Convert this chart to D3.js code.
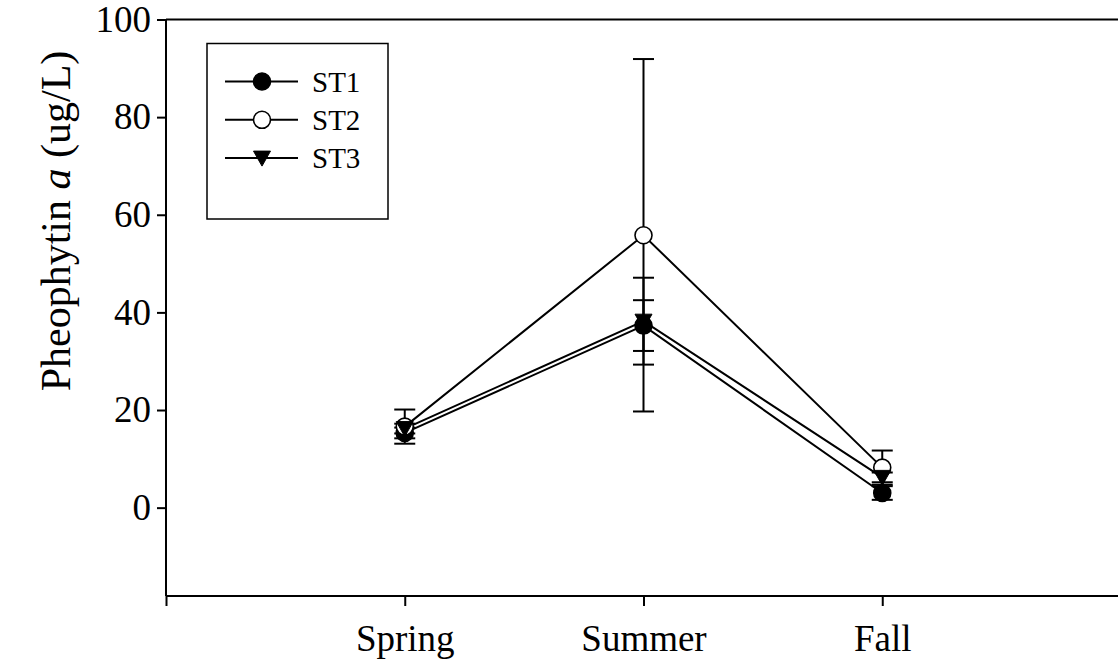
<!DOCTYPE html>
<html>
<head>
<meta charset="utf-8">
<script src="https://cdn.jsdelivr.net/npm/d3@7"></script>
<style>
  html, body { margin: 0; padding: 0; background: #fff; }
  svg { display: block; }
  svg text { font-family: "Times New Roman", "Liberation Serif", Times, serif; fill: #000; }
</style>
</head>
<body>
<svg id="chart" width="1118" height="664"></svg>
<script>
// Seasonal pheophytin a concentrations (mean ± error) at three stations
const seasons = ["Spring", "Summer", "Fall"];
const st1 = [15.3, 37.3, 3.0];
const st1Err = [1.1, 5.2, 1.4];
const st2 = [16.6, 55.8, 8.2];
const st2Err = [3.5, 36.1, 3.5];
const st3 = [16.2, 38.2, 6.2];
const st3Err = [1.0, 8.9, 1.0];
const yTicks = [0, 20, 40, 60, 80, 100];
const stationNames = ["ST1", "ST2", "ST3"];

const series = [
  { name: stationNames[0], values: st1, errors: st1Err, symbol: "filled" },
  { name: stationNames[1], values: st2, errors: st2Err, symbol: "open" },
  { name: stationNames[2], values: st3, errors: st3Err, symbol: "triangle" }
];

const serif = '"Times New Roman", "Liberation Serif", Times, serif';
const svg = d3.select("#chart");
const plotLeft = 166, plotTop = 19.5, plotBottom = 596, plotRight = 1121;

const x = d3.scaleLinear().domain([0, seasons.length + 1]).range([plotLeft, plotRight]);
const y = d3.scaleLinear().domain([-18.1, 100]).range([plotBottom, plotTop]);

// Axes
const yAxis = d3.axisLeft(y).tickValues(yTicks).tickSize(9).tickPadding(6).tickFormat(d3.format("d"));
const gy = svg.append("g").attr("transform", `translate(${plotLeft},0)`).call(yAxis)
  .attr("font-family", serif);
gy.select(".domain").attr("stroke-width", 2).attr("d", `M0,${plotBottom}V${plotTop}`);
gy.selectAll(".tick line").attr("stroke-width", 2);
gy.selectAll(".tick text").style("font-size", "37px");

const xAxis = d3.axisBottom(x)
  .tickValues([0, 1, 2, 3])
  .tickSize(10)
  .tickPadding(10)
  .tickFormat(d => d === 0 ? "" : seasons[d - 1]);
const gx = svg.append("g").attr("transform", `translate(0,${plotBottom})`).call(xAxis)
  .attr("font-family", serif);
gx.select(".domain").attr("stroke-width", 2).attr("d", `M${plotLeft},0H${plotRight}`);
gx.selectAll(".tick line").attr("stroke-width", 2);
gx.selectAll(".tick text").style("font-size", "37px").attr("dy", "0.95em");

// Top frame line
svg.append("line")
  .attr("x1", plotLeft).attr("x2", plotRight)
  .attr("y1", plotTop).attr("y2", plotTop)
  .attr("stroke", "#000").attr("stroke-width", 2);

// Y axis title
const yTitle = svg.append("text")
  .attr("transform", `translate(70,221) rotate(-90)`)
  .attr("text-anchor", "middle")
  .attr("font-family", serif)
  .style("font-size", "42px");
yTitle.append("tspan").text("Pheophytin ");
yTitle.append("tspan").style("font-style", "italic").text("a");
yTitle.append("tspan").text(" (ug/L)");

const line = d3.line().x((d, i) => x(i + 1)).y(d => y(d));
const capHalf = 10.5;
const r = 8.5;

function drawSymbol(g, kind, cx, cy) {
  if (kind === "triangle") {
    g.append("path")
      .attr("d", `M${cx - 8.5},${cy - 7}L${cx + 8.5},${cy - 7}L${cx},${cy + 8}Z`)
      .attr("fill", "#000").attr("stroke", "#000").attr("stroke-width", 1);
  } else {
    g.append("circle")
      .attr("cx", cx).attr("cy", cy).attr("r", r)
      .attr("fill", kind === "filled" ? "#000" : "#fff")
      .attr("stroke", "#000").attr("stroke-width", 1.6);
  }
}

const plot = svg.append("g");

// Connecting lines
series.forEach(s => {
  plot.append("path")
    .attr("d", line(s.values))
    .attr("fill", "none").attr("stroke", "#000").attr("stroke-width", 2);
});

// Error bars
series.forEach(s => {
  s.values.forEach((v, i) => {
    const cx = x(i + 1);
    const hi = y(v + s.errors[i]), lo = y(v - s.errors[i]);
    const g = plot.append("g").attr("stroke", "#000").attr("stroke-width", 2);
    g.append("line").attr("x1", cx).attr("x2", cx).attr("y1", hi).attr("y2", lo);
    g.append("line").attr("x1", cx - capHalf).attr("x2", cx + capHalf).attr("y1", hi).attr("y2", hi);
    g.append("line").attr("x1", cx - capHalf).attr("x2", cx + capHalf).attr("y1", lo).attr("y2", lo);
  });
});

// Markers
series.forEach(s => {
  s.values.forEach((v, i) => drawSymbol(plot, s.symbol, x(i + 1), y(v)));
});

// Legend
const legend = svg.append("g").attr("font-family", serif);
legend.append("rect")
  .attr("x", 207).attr("y", 43.5).attr("width", 181).attr("height", 175.5)
  .attr("fill", "#fff").attr("stroke", "#000").attr("stroke-width", 1.5);
series.forEach((s, i) => {
  const ly = 81.5 + i * 38.3;
  legend.append("line")
    .attr("x1", 225).attr("x2", 298).attr("y1", ly).attr("y2", ly)
    .attr("stroke", "#000").attr("stroke-width", 2);
  drawSymbol(legend, s.symbol, 262, ly);
  legend.append("text")
    .attr("x", 312).attr("y", ly).attr("dy", "0.35em")
    .style("font-size", "29px")
    .text(s.name);
});
</script>
</body>
</html>
